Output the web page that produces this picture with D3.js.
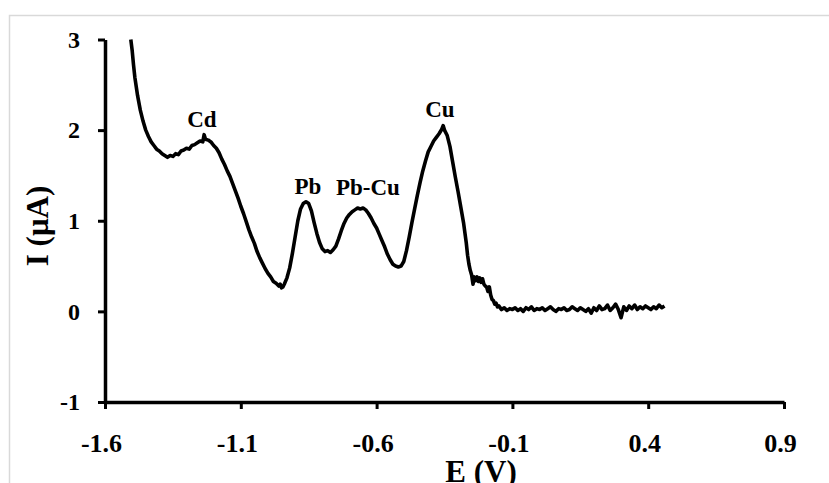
<!DOCTYPE html>
<html>
<head>
<meta charset="utf-8">
<script src="https://cdn.jsdelivr.net/npm/d3@7"></script>
<style>
  body { margin: 0; background: #fff; }
  svg text { font-family: "Liberation Serif", "Times New Roman", serif; font-weight: bold; fill: #000; }
</style>
</head>
<body>
<div id="chart"></div>
<script>
// potential (V) and current (uA)
const potential = [
  -1.505, -1.5, -1.495, -1.49, -1.48, -1.47, -1.46, -1.45, -1.44, -1.43, -1.42, -1.41, -1.4, -1.39, -1.38,
  -1.37, -1.36, -1.35, -1.34, -1.33, -1.32, -1.31, -1.3, -1.29, -1.28, -1.27, -1.26, -1.25, -1.24, -1.235,
  -1.23, -1.22, -1.21, -1.2, -1.19, -1.18, -1.17, -1.16, -1.15, -1.14, -1.13, -1.12, -1.11, -1.1, -1.09,
  -1.08, -1.07, -1.06, -1.05, -1.04, -1.03, -1.02, -1.01, -1.0, -0.99, -0.98, -0.97, -0.96, -0.955, -0.95,
  -0.945, -0.94, -0.93, -0.92, -0.91, -0.9, -0.89, -0.88, -0.87, -0.86, -0.85, -0.84, -0.83, -0.82, -0.81,
  -0.8, -0.79, -0.78, -0.77, -0.76, -0.75, -0.74, -0.73, -0.72, -0.71, -0.7, -0.69, -0.68, -0.67, -0.66,
  -0.65, -0.64, -0.63, -0.62, -0.61, -0.6, -0.59, -0.58, -0.57, -0.56, -0.55, -0.54, -0.53, -0.52, -0.51,
  -0.5, -0.49, -0.48, -0.47, -0.46, -0.45, -0.44, -0.43, -0.42, -0.41, -0.4, -0.39, -0.38, -0.37, -0.36,
  -0.355, -0.35, -0.34, -0.33, -0.32, -0.31, -0.3, -0.29, -0.28, -0.27, -0.265, -0.26, -0.255, -0.25, -0.245,
  -0.24, -0.235, -0.23, -0.225, -0.22, -0.215, -0.21, -0.205, -0.2, -0.195, -0.19, -0.185, -0.18, -0.175, -0.17,
  -0.165, -0.16, -0.155, -0.15, -0.14, -0.13, -0.12, -0.11, -0.1, -0.09, -0.08, -0.07, -0.06, -0.05, -0.04,
  -0.03, -0.02, -0.01, 0.0, 0.01, 0.02, 0.03, 0.04, 0.05, 0.06, 0.07, 0.08, 0.09, 0.1, 0.11,
  0.12, 0.13, 0.14, 0.15, 0.16, 0.17, 0.18, 0.19, 0.2, 0.21, 0.22, 0.23, 0.24, 0.25, 0.26,
  0.27, 0.28, 0.29, 0.3, 0.31, 0.32, 0.33, 0.34, 0.35, 0.36, 0.37, 0.38, 0.39, 0.4, 0.41,
  0.42, 0.43, 0.44, 0.45, 0.46
];
const current = [
  3.0, 2.88, 2.72, 2.58, 2.38, 2.22, 2.1, 2.0, 1.93, 1.87, 1.83, 1.79, 1.77, 1.74, 1.72,
  1.7, 1.72, 1.71, 1.74, 1.73, 1.77, 1.78, 1.8, 1.79, 1.83, 1.84, 1.86, 1.88, 1.87, 1.95,
  1.9, 1.89, 1.87, 1.83, 1.8, 1.75, 1.68, 1.62, 1.55, 1.49, 1.41, 1.33, 1.25, 1.16, 1.08,
  0.99, 0.9, 0.82, 0.75, 0.66, 0.59, 0.53, 0.47, 0.42, 0.38, 0.33, 0.31, 0.28, 0.3, 0.26,
  0.27, 0.3, 0.37, 0.48, 0.64, 0.82, 1.0, 1.13, 1.19, 1.21, 1.19, 1.11, 0.98, 0.86, 0.76,
  0.69, 0.66, 0.67, 0.65, 0.68, 0.72, 0.8, 0.89, 0.97, 1.03, 1.07, 1.1, 1.12, 1.14, 1.13,
  1.14, 1.12, 1.08, 1.03, 0.97, 0.92, 0.85, 0.78, 0.71, 0.63, 0.57, 0.52, 0.5, 0.49, 0.5,
  0.55, 0.67, 0.82, 0.98, 1.13, 1.28, 1.42, 1.55, 1.66, 1.76, 1.82, 1.88, 1.92, 1.96, 2.01,
  2.05, 2.0, 1.94, 1.82, 1.65, 1.48, 1.32, 1.15, 0.98, 0.76, 0.62, 0.52, 0.45, 0.4, 0.3,
  0.38, 0.34, 0.38, 0.33, 0.37, 0.32, 0.36, 0.3, 0.28, 0.27, 0.22, 0.27, 0.18, 0.13, 0.12,
  0.08, 0.09, 0.05, 0.06, 0.02, 0.04, 0.01, 0.03, 0.02, 0.04, 0.01, 0.03, 0.0, 0.04, 0.02,
  0.05, 0.01, 0.03, 0.02, 0.04, 0.01, 0.03, 0.05, 0.02, 0.0, 0.03, 0.02, 0.04, 0.01, 0.02,
  0.05, 0.03, 0.01, 0.04, 0.02, 0.0, 0.03, -0.02, 0.04, 0.01, 0.06, 0.02, 0.03, 0.07, 0.01,
  0.04, 0.08, 0.02, -0.07, 0.05, 0.01, 0.06, 0.03, 0.07, 0.02, 0.05, 0.03, 0.06, 0.04, 0.02,
  0.05, 0.03, 0.07, 0.04, 0.06
];

const xTicks = [-1.6, -1.1, -0.6, -0.1, 0.4, 0.9];
const yTicks = [-1, 0, 1, 2, 3];

const peakLabels = ["Cd", "Pb", "Pb-Cu", "Cu"];
const labelE = [-1.243, -0.853, -0.632, -0.367];
const labelI = [2.03, 1.3, 1.28, 2.15];

const W = 829, H = 483;
const margin = { top: 39.5, right: 45, bottom: 81, left: 105 },
  width = W - margin.left - margin.right,
  height = H - margin.top - margin.bottom;

const svg = d3.select("#chart").append("svg")
  .attr("width", W)
  .attr("height", H);

// light frame around the figure
svg.append("rect")
  .attr("x", 9.5).attr("y", 15.5)
  .attr("width", W).attr("height", H)
  .attr("fill", "none")
  .attr("stroke", "#d9d9d9")
  .attr("stroke-width", 1.5);

const g = svg.append("g")
  .attr("transform", `translate(${margin.left},${margin.top})`);

const x = d3.scaleLinear().domain([-1.6, 0.9]).range([0, width]);
const y = d3.scaleLinear().domain([-1, 3]).range([height, 0]);

// plain hyphen for negatives, like the original
const fmtX = d => d.toFixed(1);
const fmtY = d => String(d);

// x axis at y = -1
const xAxis = g.append("g")
  .attr("transform", `translate(0,${height})`)
  .call(d3.axisBottom(x).tickValues(xTicks).tickSize(7).tickSizeOuter(0).tickPadding(25)
    .tickFormat(fmtX));
xAxis.selectAll("text").style("font-size", "26px").attr("dx", "-4");

const yAxis = g.append("g")
  .call(d3.axisLeft(y).tickValues(yTicks).tickSize(7).tickSizeOuter(0).tickPadding(18)
    .tickFormat(fmtY));
yAxis.selectAll("text").style("font-size", "24px");

[xAxis, yAxis].forEach(a => {
  a.select(".domain").attr("stroke", "#000").attr("stroke-width", 3.5);
  a.selectAll(".tick line").attr("stroke", "#000").attr("stroke-width", 3);
});

// the scan
const data = potential.map((e, i) => ({ e: e, i: current[i] }));
g.append("path")
  .datum(data)
  .attr("fill", "none")
  .attr("stroke", "#000")
  .attr("stroke-width", 3.6)
  .attr("stroke-linejoin", "round")
  .attr("d", d3.line().x(d => x(d.e)).y(d => y(d.i)));

// peak names
g.selectAll(".peak")
  .data(peakLabels)
  .join("text")
  .attr("class", "peak")
  .attr("x", (d, k) => x(labelE[k]))
  .attr("y", (d, k) => y(labelI[k]))
  .attr("text-anchor", "middle")
  .style("font-size", "23px")
  .text(d => d);

// axis titles
svg.append("text")
  .attr("x", 481)
  .attr("y", 482)
  .attr("text-anchor", "middle")
  .style("font-size", "31px")
  .text("E (V)");

svg.append("text")
  .attr("transform", "translate(48,226) rotate(-90)")
  .attr("text-anchor", "middle")
  .style("font-size", "31px")
  .text("I (μA)");
</script>
</body>
</html>
